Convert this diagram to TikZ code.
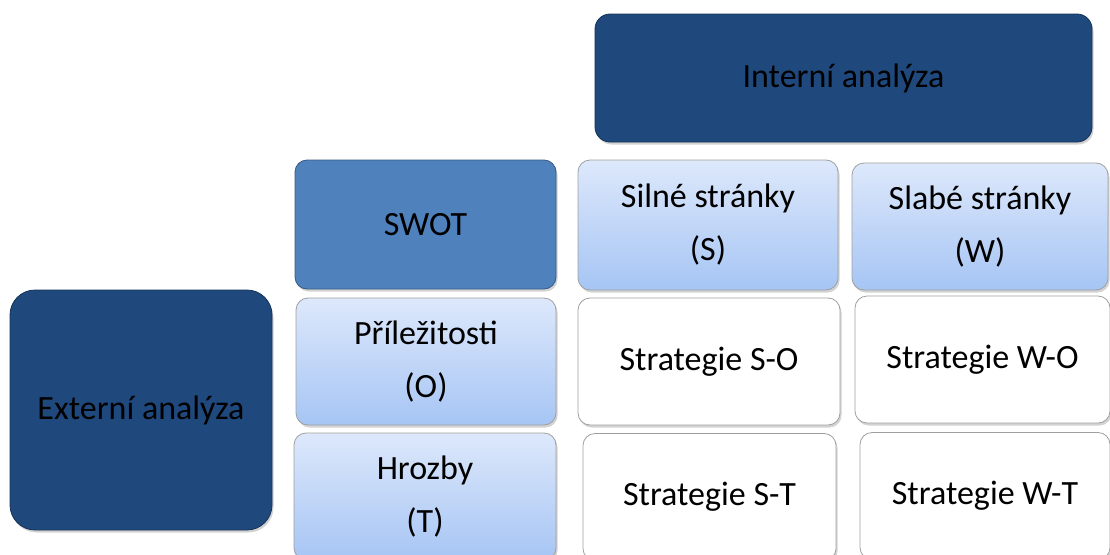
\documentclass[tikz,border=0pt]{standalone}
\usepackage{fontspec}
\setmainfont{Carlito}
\usetikzlibrary{shadows}

\definecolor{navy}{HTML}{1F497D}
\definecolor{midblue}{HTML}{4F81BD}
\definecolor{paletop}{HTML}{DDE8FB}
\definecolor{palebot}{HTML}{A6C5F4}

\tikzset{
    box/.style={rectangle, rounded corners=12pt, draw=gray!75, line width=0.8pt,
        align=center, inner sep=0pt, font=\fontsize{34}{53}\selectfont,
        drop shadow={shadow xshift=1.5pt, shadow yshift=-2.5pt, opacity=0.35}},
    darkbox/.style={box, fill=navy, draw=navy!70!black},
    swotbox/.style={box, fill=midblue, draw=midblue!70!black},
    palebox/.style={box, top color=paletop, bottom color=palebot},
    whitebox/.style={box, fill=white}
}

\begin{document}
\begin{tikzpicture}[x=1pt, y=-1pt]

    % picture frame
    \useasboundingbox (0,0) rectangle (1110,554);

    % the two analysis headers
    \node[darkbox, minimum width=497pt, minimum height=128pt, rounded corners=15pt] (intern) at (843.5,78) {Interní analýza};
    \node[darkbox, minimum width=262pt, minimum height=240pt, rounded corners=25pt] (extern) at (141,410) {Externí analýza};

    % top row
    \node[swotbox, minimum width=261pt, minimum height=129pt] (swot) at (425.5,224.5) {SWOT};
    \node[palebox, minimum width=260pt, minimum height=130pt] (silne) at (708,225) {Silné stránky\\(S)};
    \node[palebox, minimum width=256pt, minimum height=127pt] (slabe) at (980,226.5) {Slabé stránky\\(W)};

    % opportunities row
    \node[palebox, minimum width=260pt, minimum height=127pt] (prilez) at (426,361.5) {Příležitosti\\(O)};
    \node[whitebox, minimum width=262pt, minimum height=127pt] (so) at (709,361.5) {Strategie S-O};
    \node[whitebox, minimum width=255pt, minimum height=127pt] (wo) at (982.5,359.5) {Strategie W-O};

    % threats row
    \node[palebox, minimum width=262pt, minimum height=127pt] (hrozby) at (425,496.5) {Hrozby\\(T)};
    \node[whitebox, minimum width=253pt, minimum height=127pt] (st) at (709.5,497) {Strategie S-T};
    \node[whitebox, minimum width=250pt, minimum height=127pt] (wt) at (985,496) {Strategie W-T};

\end{tikzpicture}
\end{document}
